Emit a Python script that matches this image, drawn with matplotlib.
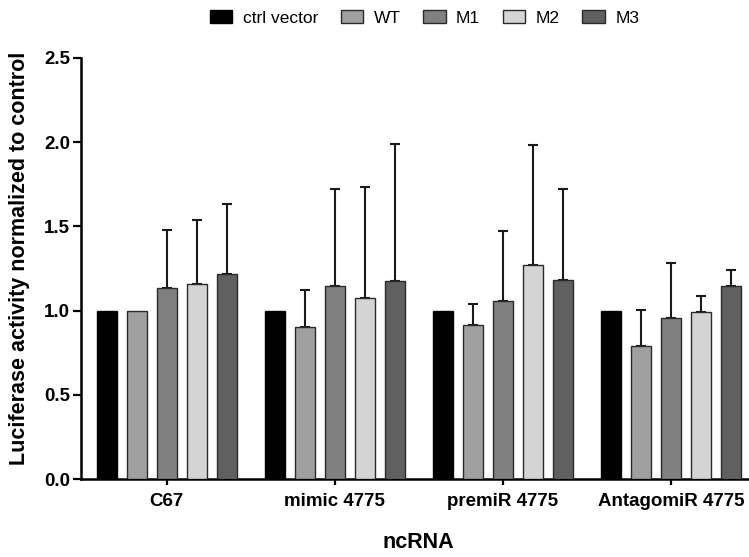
import matplotlib
matplotlib.use("Agg")
import matplotlib.pyplot as plt
import numpy as np

plt.rcParams['font.family'] = ['Liberation Sans', 'DejaVu Sans']

categories = ["C67", "mimic 4775", "premiR 4775", "AntagomiR 4775"]
series_names = ["ctrl vector", "WT", "M1", "M2", "M3"]
means = {
    "ctrl vector": [1.0, 1.0, 1.0, 1.0],
    "WT": [1.0, 0.903, 0.913, 0.788],
    "M1": [1.136, 1.144, 1.055, 0.958],
    "M2": [1.156, 1.073, 1.271, 0.992],
    "M3": [1.217, 1.178, 1.182, 1.148],
}
err_tops = {
    "ctrl vector": [None, None, None, None],
    "WT": [None, 1.12, 1.037, 1.002],
    "M1": [1.479, 1.724, 1.473, 1.283],
    "M2": [1.538, 1.732, 1.981, 1.089],
    "M3": [1.633, 1.989, 1.72, 1.243],
}
colors = ["#000000", "#a0a0a0", "#808080", "#d4d4d4", "#606060"]
edges = ["#000000", "#2a2a2a", "#2a2a2a", "#2a2a2a", "#2a2a2a"]
yticks = [0.0, 0.5, 1.0, 1.5, 2.0, 2.5]

fig = plt.figure(figsize=(7.49, 5.57), dpi=100)
ax = fig.add_axes([81/749, 78/557, 668/749, 421/557])

x = np.arange(len(categories))
pitch = 0.1786
width = 0.119
for i, name in enumerate(series_names):
    pos = x + (i - 2) * pitch
    m = np.array(means[name])
    ax.bar(pos, m, width=width, color=colors[i], edgecolor=edges[i],
           linewidth=1.0, label=name, zorder=3)
    tops = err_tops[name]
    for p, mv, t in zip(pos, m, tops):
        if t is None:
            continue
        ax.errorbar([p], [mv], yerr=[[0], [t - mv]], fmt='none',
                    ecolor="#1a1a1a", elinewidth=1.5, capsize=3.4,
                    capthick=1.5, zorder=2)

ax.set_xlim(-0.509, 3.465)
ax.set_ylim(0, 2.5)
ax.set_yticks(yticks)
ax.set_yticklabels([f"{v:.1f}" for v in yticks], fontsize=13.5, fontweight='bold')
ax.set_xticks(x)
ax.set_xticklabels(categories, fontsize=13.5, fontweight='bold')
ax.spines['top'].set_visible(False)
ax.spines['right'].set_visible(False)
ax.spines['left'].set_linewidth(1.8)
ax.spines['bottom'].set_linewidth(1.8)
ax.tick_params(axis='y', direction='out', length=6, width=1.6, pad=2)
ax.tick_params(axis='x', direction='out', length=4, width=1.6, pad=6)

fig.text(20/749, 1 - 258/557, "Luciferase activity normalized to control",
         rotation=90, ha='center', va='center', fontsize=15.5, fontweight='bold')
fig.text(418/749, 1 - 543/557, "ncRNA", ha='center', va='center',
         fontsize=15.5, fontweight='bold')

leg = fig.legend(loc='center', bbox_to_anchor=(424.5/749, 0.968), ncol=5,
                 frameon=False, fontsize=12.5, handlelength=1.3,
                 handleheight=0.75, columnspacing=1.3, handletextpad=0.6)

fig.savefig("out.png", dpi=100)
